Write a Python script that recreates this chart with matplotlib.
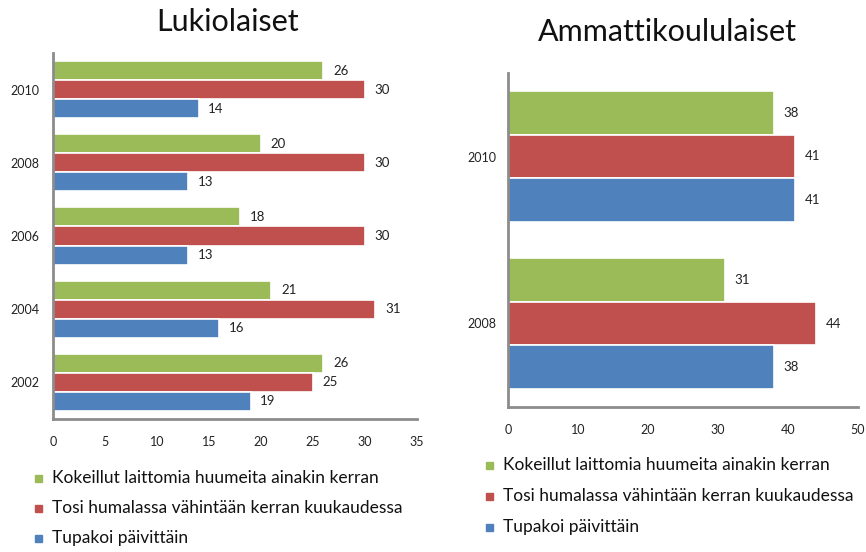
import matplotlib
matplotlib.use("Agg")
import matplotlib.pyplot as plt
from matplotlib.patches import Rectangle

plt.rcParams['font.family'] = ['Lato', 'DejaVu Sans']

# data
series_names = ["Kokeillut laittomia huumeita ainakin kerran",
                "Tosi humalassa vähintään kerran kuukaudessa",
                "Tupakoi päivittäin"]
colors = ["#9BBB59", "#C0504D", "#4F81BD"]

lukio_years = ["2002", "2004", "2006", "2008", "2010"]
lukio_huumeet = [26, 21, 18, 20, 26]
lukio_humala = [25, 31, 30, 30, 30]
lukio_tupakka = [19, 16, 13, 13, 14]

amis_years = ["2008", "2010"]
amis_huumeet = [31, 38]
amis_humala = [44, 41]
amis_tupakka = [38, 41]

W, H = 866, 552
fig = plt.figure(figsize=(W / 100, H / 100), dpi=100)


def draw_panel(rect, years, series, xmax, xstep, title, title_xy, ylab_pad):
    ax = fig.add_axes(rect)
    h = 0.26
    offsets = [h, 0, -h]
    pos = list(range(len(years)))
    for vals, off, c in zip(series, offsets, colors):
        ys = [p + off for p in pos]
        ax.barh(ys, vals, height=h, color=c, edgecolor="white", linewidth=1.2)
        for y, v in zip(ys, vals):
            ax.annotate(str(v), (v, y), xytext=(7, 0), textcoords="offset points",
                        va="center", ha="left", fontsize=9.5, color="#222222")
    ax.set_xlim(0, xmax)
    ax.set_ylim(-0.5, len(years) - 0.5)
    ax.set_xticks(range(0, xmax + 1, xstep))
    ax.set_yticks(pos)
    ax.set_yticklabels(years)
    ax.tick_params(length=0, labelsize=9, labelcolor="#222222")
    ax.tick_params(axis="x", pad=12)
    ax.tick_params(axis="y", pad=ylab_pad)
    for s in ["top", "right"]:
        ax.spines[s].set_visible(False)
    for s in ["left", "bottom"]:
        ax.spines[s].set_color("#8C8C8C")
        ax.spines[s].set_linewidth(2)
    fig.text(title_xy[0] / W, 1 - title_xy[1] / H, title, ha="center", va="center",
             fontsize=22, color="#111111")
    return ax


draw_panel([53 / W, 1 - 419 / H, 364 / W, 366 / H], lukio_years,
           [lukio_huumeet, lukio_humala, lukio_tupakka], 35, 5,
           "Lukiolaiset", (228, 22), 10)
draw_panel([508 / W, 1 - 407 / H, 350 / W, 334 / H], amis_years,
           [amis_huumeet, amis_humala, amis_tupakka], 50, 10,
           "Ammattikoululaiset", (667, 32), 8)


def draw_legend(x_sq, x_txt, y_rows):
    for name, c, y in zip(series_names, colors, y_rows):
        fig.add_artist(Rectangle((x_sq / W, 1 - (y + 3.5) / H), 7 / W, 7 / H,
                                 transform=fig.transFigure, color=c))
        fig.text(x_txt / W, 1 - y / H, name, ha="left", va="center",
                 fontsize=12.5, color="#111111")


draw_legend(35, 52, [478, 508, 538])
draw_legend(486, 503, [465, 496, 527])

fig.savefig("out.png", dpi=100)
